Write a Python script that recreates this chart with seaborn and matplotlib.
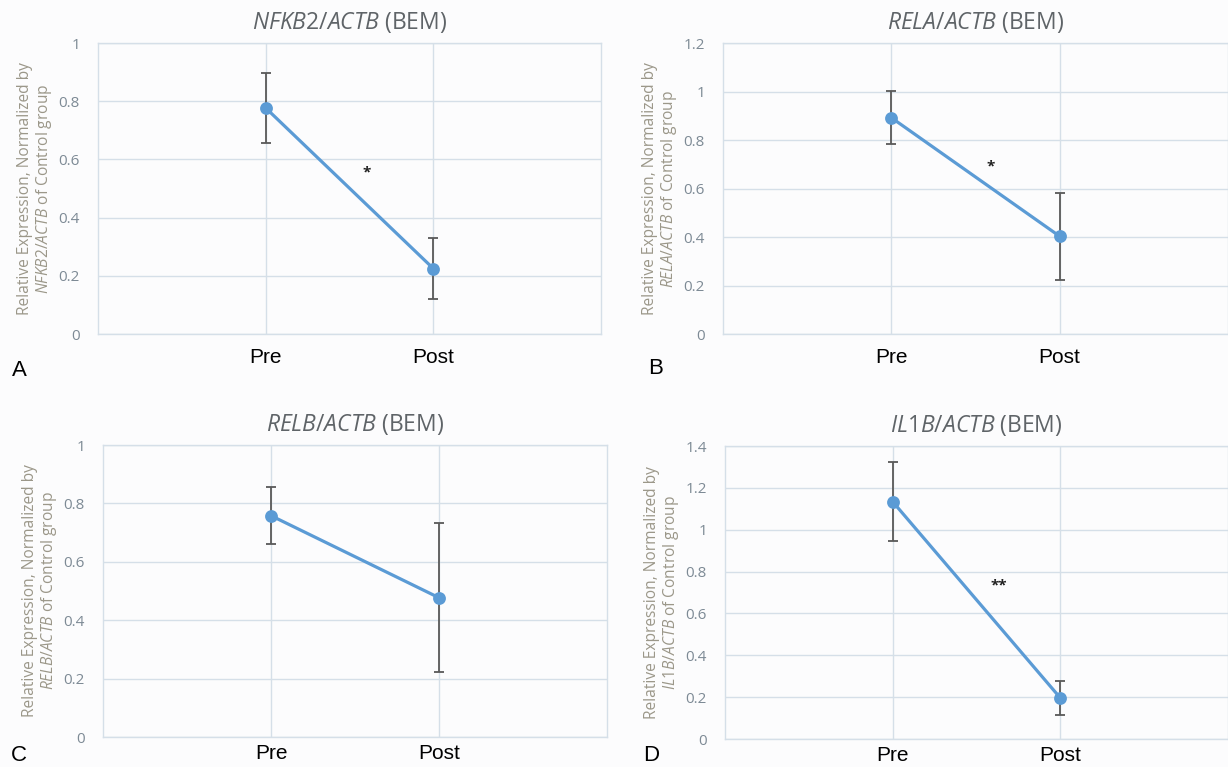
import numpy as np
import pandas as pd
import matplotlib
matplotlib.use("Agg")
import matplotlib.pyplot as plt
import seaborn as sns

# ------------------------------
# Data
# ------------------------------
CONDITIONS = ["Pre", "Post"]

NFKB2_MEAN = [0.777, 0.225]
NFKB2_SEM = [0.120, 0.104]

RELA_MEAN = [0.892, 0.403]
RELA_SEM = [0.109, 0.180]

RELB_MEAN = [0.758, 0.477]
RELB_SEM = [0.097, 0.256]

IL1B_MEAN = [1.134, 0.196]
IL1B_SEM = [0.189, 0.079]

GENES = ["NFKB2", "RELA", "RELB", "IL1B"]
YMAX = [1.0, 1.2, 1.0, 1.4]
STARS = ["*", "*", "", "**"]
STAR_POS = [(0.60, 0.555), (0.59, 0.69), (0.5, 0.0), (0.63, 0.735)]
PANEL_LETTERS = ["A", "B", "C", "D"]

LINE_COLOR = "#5b9bd5"
ERR_COLOR = "#595959"
GRID_COLOR = "#d5dfe8"
TICK_COLOR = "#7d8a95"
LABEL_COLOR = "#9b9789"
TITLE_COLOR = "#5f6468"
BG = "#fcfcfd"

sns.set_theme(style="white")
plt.rcParams["font.family"] = ["Open Sans", "DejaVu Sans"]
plt.rcParams["mathtext.fontset"] = "custom"
plt.rcParams["mathtext.rm"] = "Open Sans"
plt.rcParams["mathtext.it"] = "Open Sans:italic"

fig = plt.figure(figsize=(12.28, 7.67), dpi=100, facecolor=BG)

# axes rectangles [left, bottom, width, height] in figure fractions
RECTS = [
    [0.0798, 0.5645, 0.4096, 0.3794],
    [0.5888, 0.5645, 0.4112, 0.3794],
    [0.0839, 0.0391, 0.4104, 0.3807],
    [0.5904, 0.0365, 0.4096, 0.3820],
]
XPAD = [10, 10, 5, 5]
LETTER_POS = [(0.010, 0.510), (0.528, 0.513), (0.009, 0.008), (0.524, 0.008)]

data = [
    (NFKB2_MEAN, NFKB2_SEM),
    (RELA_MEAN, RELA_SEM),
    (RELB_MEAN, RELB_SEM),
    (IL1B_MEAN, IL1B_SEM),
]

for i, (gene, (means, sems)) in enumerate(zip(GENES, data)):
    ax = fig.add_axes(RECTS[i])
    ax.set_facecolor(BG)
    df = pd.DataFrame({"cond": CONDITIONS, "val": means})

    ax.errorbar(
        [0, 1], means, yerr=sems, fmt="none",
        ecolor=ERR_COLOR, elinewidth=1.3, capsize=3.5, capthick=1.3, zorder=2,
    )
    sns.pointplot(
        data=df, x="cond", y="val", ax=ax, errorbar=None,
        color=LINE_COLOR, markers="o", markersize=7.5, linewidth=2.3, zorder=3,
    )

    ticks = np.arange(0, YMAX[i] + 0.01, 0.2)
    ax.set_xlim(-1, 2)
    ax.set_ylim(0, YMAX[i])
    ax.set_yticks(ticks)
    ax.set_yticklabels([f"{t:g}" for t in ticks])
    ax.set_xticks([0, 1])
    ax.set_xticklabels(CONDITIONS)
    ax.grid(True, color=GRID_COLOR, linewidth=1.0, zorder=0)
    ax.set_axisbelow(True)
    for sp in ax.spines.values():
        sp.set_color(GRID_COLOR)
        sp.set_linewidth(1.0)
    ax.tick_params(axis="both", length=0)
    ax.tick_params(axis="y", labelsize=11, labelcolor=TICK_COLOR, pad=13)
    ax.tick_params(axis="x", labelsize=15, labelcolor="black", pad=XPAD[i])
    for lab in ax.get_xticklabels():
        lab.set_family(["Liberation Sans Narrow", "Liberation Sans"])

    ax.set_xlabel("")
    ax.set_ylabel(
        "Relative Expression, Normalized by\n"
        + rf"$\it{{{gene}/ACTB}}$ of Control group",
        fontsize=11.2, color=LABEL_COLOR, labelpad=3, linespacing=1.1,
    )
    ax.set_title(
        rf"$\it{{{gene}/ACTB}}$ (BEM)",
        fontsize=16.5, color=TITLE_COLOR, pad=10,
    )

    if STARS[i]:
        sx, sy = STAR_POS[i]
        ax.text(sx, sy, STARS[i], ha="center", va="center",
                fontsize=11, color="#222222", fontweight="bold")

    fig.text(LETTER_POS[i][0], LETTER_POS[i][1], PANEL_LETTERS[i],
             fontsize=16, color="black", family=["Liberation Sans", "DejaVu Sans"])

fig.savefig("out.png", dpi=100, facecolor=BG)
